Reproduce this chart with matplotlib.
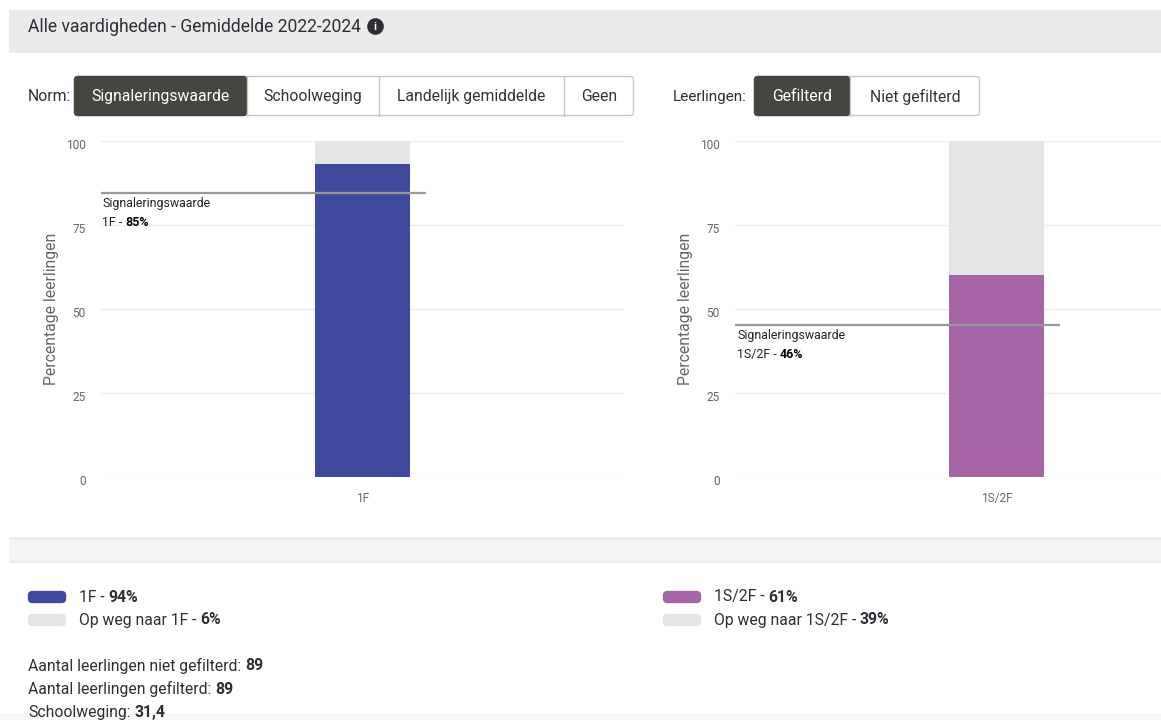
import matplotlib
matplotlib.use("Agg")
import matplotlib.pyplot as plt
from matplotlib.patches import Rectangle, FancyBboxPatch
from matplotlib.transforms import ScaledTranslation

W, H = 1161, 720
plt.rcParams['font.family'] = ['Roboto', 'DejaVu Sans']

title = "Alle vaardigheden - Gemiddelde 2022-2024"
norm_labels = ["Signaleringswaarde", "Schoolweging", "Landelijk gemiddelde", "Geen"]
leerling_labels = ["Gefilterd", "Niet gefilterd"]
categories = ["1F", "1S/2F"]
bar_values = [93.2, 60.1]
shown_values = [94, 61]
line_values = [84.5, 45.2]
shown_norms = [85, 46]
colors = ["#3f4a9e", "#a464a6"]
ticks = [0, 25, 50, 75, 100]

fig = plt.figure(figsize=(W/100, H/100), dpi=100, facecolor="white")
bg = fig.add_axes([0, 0, 1, 1])
bg.set_xlim(0, W); bg.set_ylim(H, 0); bg.axis("off")
bg.set_zorder(5)
under = fig.add_axes([0, 0, 1, 1])
under.set_xlim(0, W); under.set_ylim(H, 0); under.axis("off")
under.set_zorder(0)

under.add_patch(Rectangle((9, 10), 1152, 43, fc="#ebebeb", ec="none"))
under.add_patch(Rectangle((9, 537), 1152, 26, fc="#f4f4f4", ec="none"))
under.plot([9, 1161], [538, 538], color="#ebebeb", lw=2, solid_capstyle="butt")
under.plot([9, 1161], [562, 562], color="#ebebeb", lw=1.5, solid_capstyle="butt")
under.add_patch(Rectangle((0, 713), W, 7, fc="#f8f8f8", ec="none"))

txt = "#2b2f36"
BIG = 11.3
SMALL = 8.9
bg.text(28, 26.5, title, fontsize=12.65, color=txt, va="center")
bg.plot([375], [26], "o", ms=12, color="#2b2f36", mew=0)
bg.text(375, 26.5, "i", fontsize=8, color="white", va="center", ha="center", weight="bold")

def buttons(x_edges, labels, y=76, h=40):
    bg.add_patch(FancyBboxPatch((x_edges[0]+1, y+1), x_edges[-1]-x_edges[0]-2, h-2,
                 boxstyle="round,pad=0.5,rounding_size=3", fc="white", ec="#c8c8c8", lw=1))
    for i, lab in enumerate(labels):
        x0, x1 = x_edges[i], x_edges[i+1]
        if i == 0:
            bg.add_patch(FancyBboxPatch((x0+1, y+1), x1-x0-2, h-2,
                         boxstyle="round,pad=0.5,rounding_size=3", fc="#464640", ec="#464640", lw=1))
        else:
            bg.plot([x0, x0], [y, y+h], color="#c8c8c8", lw=1)
        bg.text((x0+x1)/2, y+h/2+0.5, lab, fontsize=BIG, va="center", ha="center",
                color="white" if i == 0 else "#333333")

bg.text(28, 96.5, "Norm:", fontsize=BIG, color=txt, va="center")
buttons([74, 247, 379, 564, 634], norm_labels)
bg.text(673, 96.5, "Leerlingen:", fontsize=11, color=txt, va="center")
buttons([754, 850, 980], leerling_labels)

def chart(left, cat, val, line, shown, color, line_x0, line_x1, label_x):
    ax = fig.add_axes([left/W, 1-477/H, 523/W, 336/H])
    ax.set_zorder(2)
    ax.patch.set_visible(False)
    ax.set_xlim(0, 1); ax.set_ylim(0, 100)
    for s in ax.spines.values():
        s.set_visible(False)
    ax.set_yticks(ticks)
    ax.set_xticks([0.5]); ax.set_xticklabels([cat])
    ax.tick_params(length=0, labelsize=8.6, labelcolor="#666666", pad=11)
    ax.tick_params(axis="y", pad=11)
    shift = ScaledTranslation(0, -3/100, fig.dpi_scale_trans)
    for l in ax.get_yticklabels():
        l.set_transform(l.get_transform() + shift)
    ax.grid(axis="y", color="#eeeeee", lw=1); ax.set_axisbelow(True)
    ax.set_ylabel("Percentage leerlingen", fontsize=BIG, color="#666666", labelpad=0)
    ax.yaxis.set_label_coords(-42/523, 0.5)
    ax.bar([0.5], [val], width=95/523, color=color, zorder=2)
    ax.bar([0.5], [100-val], bottom=[val], width=95/523, color="#e5e5e5", zorder=2)
    ax.plot([(line_x0-left)/523, (line_x1-left)/523], [line, line], color="#999999", lw=1.6,
            zorder=3, clip_on=False, solid_capstyle="butt")
    py = 141 + 336*(1-line/100)
    r = fig.canvas.get_renderer()
    bg.text(label_x, py+10, "Signaleringswaarde", fontsize=SMALL, color="#222222", va="center")
    t = bg.text(label_x, py+29, f"{cat} -", fontsize=SMALL, color="#222222", va="center")
    x1 = t.get_window_extent(r).x1
    bg.text(x1 + 3, py+29, f"{shown}%", fontsize=SMALL, color="black", va="center", weight="bold")

chart(101, categories[0], bar_values[0], line_values[0], shown_norms[0], colors[0], 101, 426, 102.5)
chart(735, categories[1], bar_values[1], line_values[1], shown_norms[1], colors[1], 735, 1060, 737)

def legend(x, y, color, label, pct):
    bg.add_patch(FancyBboxPatch((x+0.5, y-5.5), 37, 11, boxstyle="round,pad=0,rounding_size=4",
                 fc=color, ec=color, lw=1))
    t = bg.text(x+51, y, label + " -", fontsize=BIG, color=txt, va="center")
    bb = t.get_window_extent(fig.canvas.get_renderer())
    bg.text(bb.x1 + 3.5, y, pct, fontsize=BIG, color=txt, va="center", weight="bold")

legend(28, 597, colors[0], categories[0], f"{shown_values[0]}%")
legend(28, 620, "#e5e5e5", "Op weg naar " + categories[0], f"{100-shown_values[0]}%")
legend(663, 597, colors[1], categories[1], f"{shown_values[1]}%")
legend(663, 620, "#e5e5e5", "Op weg naar " + categories[1], f"{100-shown_values[1]}%")

info_labels = ["Aantal leerlingen niet gefilterd:", "Aantal leerlingen gefilterd:", "Schoolweging:"]
info_values = ["89", "89", "31,4"]
for yy, lab, v in zip([666, 689, 712], info_labels, info_values):
    t = bg.text(28, yy, lab, fontsize=BIG, color=txt, va="center")
    bb = t.get_window_extent(fig.canvas.get_renderer())
    bg.text(bb.x1 + 4, yy, v, fontsize=BIG, color=txt, va="center", weight="bold")

fig.savefig("out.png", dpi=100)
